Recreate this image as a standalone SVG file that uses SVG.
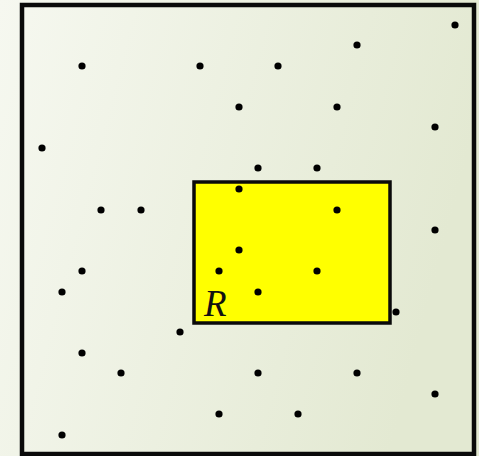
<svg xmlns="http://www.w3.org/2000/svg" width="479" height="456" viewBox="0 0 479 456">
<defs>
<linearGradient id="bg" x1="0" y1="0" x2="1" y2="0.25">
<stop offset="0" stop-color="#f6f8f0"/>
<stop offset="1" stop-color="#e3e9d2"/>
</linearGradient>
</defs>
<style>
.pt{fill:#000}
.frame{fill:none;stroke:#0a0a0a;stroke-width:4.5}
.region{fill:#ffff00;stroke:#0a0a0a;stroke-width:3.5}
.lbl{font-family:"Liberation Serif",serif;font-style:italic;font-size:37px;fill:#111}
</style>
<rect x="0" y="0" width="479" height="456" fill="url(#bg)"/>
<g id="frame"><rect class="frame" x="22" y="5" width="452" height="449"/></g>
<g id="region-R">
<rect class="region" x="194" y="182" width="196" height="141"/>
<text class="lbl" x="204" y="316">R</text>
</g>
<g id="points">
<circle class="pt" cx="455" cy="25" r="3.6"/>
<circle class="pt" cx="357" cy="45" r="3.6"/>
<circle class="pt" cx="82" cy="66" r="3.6"/>
<circle class="pt" cx="200" cy="66" r="3.6"/>
<circle class="pt" cx="278" cy="66" r="3.6"/>
<circle class="pt" cx="239" cy="107" r="3.6"/>
<circle class="pt" cx="337" cy="107" r="3.6"/>
<circle class="pt" cx="435" cy="127" r="3.6"/>
<circle class="pt" cx="42" cy="148" r="3.6"/>
<circle class="pt" cx="258" cy="168" r="3.6"/>
<circle class="pt" cx="317" cy="168" r="3.6"/>
<circle class="pt" cx="239" cy="189" r="3.6"/>
<circle class="pt" cx="101" cy="210" r="3.6"/>
<circle class="pt" cx="141" cy="210" r="3.6"/>
<circle class="pt" cx="337" cy="210" r="3.6"/>
<circle class="pt" cx="435" cy="230" r="3.6"/>
<circle class="pt" cx="239" cy="250" r="3.6"/>
<circle class="pt" cx="82" cy="271" r="3.6"/>
<circle class="pt" cx="219" cy="271" r="3.6"/>
<circle class="pt" cx="317" cy="271" r="3.6"/>
<circle class="pt" cx="62" cy="292" r="3.6"/>
<circle class="pt" cx="258" cy="292" r="3.6"/>
<circle class="pt" cx="396" cy="312" r="3.6"/>
<circle class="pt" cx="180" cy="332" r="3.6"/>
<circle class="pt" cx="82" cy="353" r="3.6"/>
<circle class="pt" cx="121" cy="373" r="3.6"/>
<circle class="pt" cx="258" cy="373" r="3.6"/>
<circle class="pt" cx="357" cy="373" r="3.6"/>
<circle class="pt" cx="435" cy="394" r="3.6"/>
<circle class="pt" cx="219" cy="414" r="3.6"/>
<circle class="pt" cx="298" cy="414" r="3.6"/>
<circle class="pt" cx="62" cy="435" r="3.6"/>
</g>
</svg>
